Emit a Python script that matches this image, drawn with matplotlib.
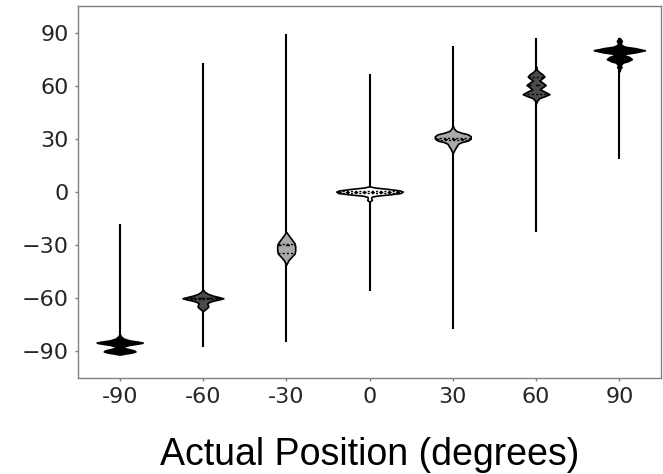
import numpy as np
import matplotlib
matplotlib.use("Agg")
import matplotlib.pyplot as plt

# Actual target positions (categories on the x axis)
categories = ["-90", "-60", "-30", "0", "30", "60", "90"]

# Full range of reported positions for each target (min, max)
range_lo = [-91.8, -87.6, -84.4, -56.0, -77.6, -22.5, 18.4]
range_hi = [-18.0, 72.6, 89.4, 66.4, 82.7, 87.0, 86.8]

# Density profiles: reported position and relative half-width of the violin
dens_m90_y = [-80.0, -81.5, -82.8, -83.8, -84.5, -85.0, -85.6, -86.4, -87.3, -88.0, -88.7, -89.4, -90.0, -90.6, -91.2, -91.8]
dens_m90_w = [0.0, 0.015, 0.05, 0.12, 0.22, 0.276, 0.22, 0.11, 0.045, 0.05, 0.11, 0.17, 0.19, 0.15, 0.07, 0.0]

dens_m60_y = [-55.0, -56.3, -57.5, -58.5, -59.3, -60.0, -60.7, -61.4, -62.2, -63.0, -63.8, -64.6, -65.4, -66.3, -67.3]
dens_m60_w = [0.0, 0.02, 0.06, 0.12, 0.19, 0.245, 0.19, 0.12, 0.07, 0.05, 0.06, 0.065, 0.05, 0.025, 0.0]

dens_m30_y = [-22.5, -24.5, -27.0, -29.0, -30.5, -33.0, -34.8, -36.5, -38.5, -41.0]
dens_m30_w = [0.0, 0.03, 0.07, 0.10, 0.108, 0.108, 0.10, 0.065, 0.028, 0.0]

dens_0_y = [3.2, 2.5, 1.7, 0.9, 0.2, -0.6, -1.4, -2.1, -2.7, -3.5, -4.5, -5.5]
dens_0_w = [0.0, 0.07, 0.23, 0.36, 0.40, 0.37, 0.23, 0.08, 0.025, 0.02, 0.028, 0.0]

dens_30_y = [37.5, 35.8, 34.5, 33.5, 32.6, 31.5, 30.2, 29.0, 28.2, 27.3, 26.0, 24.5, 22.0]
dens_30_w = [0.0, 0.015, 0.04, 0.10, 0.18, 0.215, 0.215, 0.18, 0.11, 0.065, 0.048, 0.028, 0.0]

dens_60_y = [71.0, 69.0, 67.8, 66.5, 65.2, 64.0, 63.0, 62.0, 60.4, 59.0, 58.0, 57.0, 55.2, 54.0, 53.0, 51.5, 50.0]
dens_60_w = [0.0, 0.01, 0.035, 0.075, 0.10, 0.07, 0.04, 0.07, 0.115, 0.075, 0.045, 0.09, 0.16, 0.10, 0.04, 0.012, 0.0]

dens_90_y = [87.0, 86.0, 85.2, 84.2, 83.0, 82.0, 81.2, 80.0, 78.8, 78.0, 77.2, 76.2, 75.0, 73.8, 73.0, 71.5, 70.5, 69.5, 68.0]
dens_90_w = [0.0, 0.02, 0.03, 0.015, 0.025, 0.07, 0.19, 0.306, 0.19, 0.07, 0.06, 0.12, 0.15, 0.10, 0.04, 0.015, 0.025, 0.01, 0.0]

# Quartiles (Q1, median, Q3) of reported positions
q1 = [-89.8, -60.6, -34.3, -0.5, 29.6, 55.2, 75.0]
q2 = [-85.0, -60.0, -30.0, 0.0, 30.2, 60.2, 80.0]
q3 = [-84.6, -59.6, -29.6, 0.5, 30.6, 65.2, 80.3]

profiles = [
    (dens_m90_y, dens_m90_w), (dens_m60_y, dens_m60_w), (dens_m30_y, dens_m30_w),
    (dens_0_y, dens_0_w), (dens_30_y, dens_30_w), (dens_60_y, dens_60_w),
    (dens_90_y, dens_90_w),
]

fill_colors = ["#000000", "#4b4b4b", "#aaaaaa", "#ffffff", "#aaaaaa", "#4b4b4b", "#000000"]

fig = plt.figure(figsize=(6.63, 4.74), dpi=100)
ax = fig.add_axes([78 / 663, 1 - 378 / 474, 583 / 663, 372 / 474])

for i, (ys, ws) in enumerate(profiles):
    ys = np.asarray(ys)
    ws = np.asarray(ws)
    # thin whisker covering the full range of responses
    ax.vlines(i, range_lo[i], range_hi[i], color="black", lw=1.5, zorder=1)
    ax.fill_betweenx(ys, i - ws, i + ws, facecolor=fill_colors[i],
                     edgecolor="black", lw=1.2, zorder=2)
    order = np.argsort(ys)
    for q, dash in ((q1[i], (0, (1.5, 1.5))), (q2[i], (0, (3, 3))), (q3[i], (0, (1.5, 1.5)))):
        w = np.interp(q, ys[order], ws[order])
        ax.plot([i - w, i + w], [q, q], color="black", lw=1.0, ls=dash, zorder=3)

ax.set_xlim(-0.5, 6.5)
ax.set_ylim(-105, 105)
ax.set_xticks(range(len(categories)))
ax.set_xticklabels(categories)
ax.set_yticks([-90, -60, -30, 0, 30, 60, 90])

for s in ax.spines.values():
    s.set_color("#808080")
    s.set_linewidth(1.0)
ax.tick_params(axis="both", colors="#808080", length=2.5, width=1.0,
               labelsize=16, labelcolor="#262626", pad=4)

ax.set_xlabel("Actual Position (degrees)", fontsize=27,
              family=["Liberation Sans", "DejaVu Sans"], color="black")
ax.xaxis.label.set_va("baseline")
ax.xaxis.set_label_coords(0.5, (378 - 465) / 372)

fig.savefig("out.png", dpi=100)
